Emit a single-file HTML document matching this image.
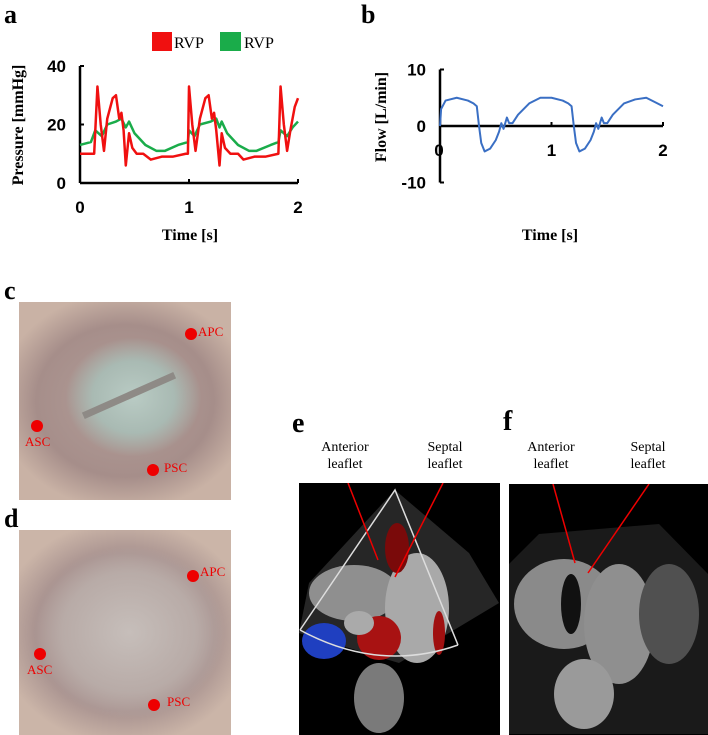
<!DOCTYPE html>
<html><head><meta charset="utf-8"><style>
body{margin:0;width:708px;height:735px;background:#fff;overflow:hidden;position:relative;font-family:"Liberation Serif",serif}
.lbl{position:absolute;font-weight:bold;font-size:26px;font-family:"Liberation Serif",serif;line-height:1}
.ph{position:absolute;overflow:hidden}
.t{position:absolute;font-size:14px;text-align:center;line-height:17px;font-family:"Liberation Serif",serif}
.mk{position:absolute;color:#e00;font-size:13px;font-family:"Liberation Serif",serif}
.dot{position:absolute;width:12px;height:12px;border-radius:50%;background:#e00}
</style></head><body>
<div class="lbl" style="left:4px;top:2px">a</div>
<div class="lbl" style="left:361px;top:2px">b</div>
<svg id="chartA" width="360" height="260" style="position:absolute;left:0;top:0"></svg>
<svg id="chartB" width="348" height="260" style="position:absolute;left:360px;top:0"></svg>

<div class="lbl" style="left:4px;top:278px">c</div>
<div class="ph" style="left:19px;top:302px;width:212px;height:198px;background:radial-gradient(ellipse 32% 30% at 54% 48%,#b9cbc4 0%,#a9bab3 60%,rgba(170,160,155,0) 100%),radial-gradient(ellipse 60% 55% at 50% 50%,#b29e99 0%,#a68e8a 70%,#c9b2a5 100%),#cdb8ab">
<div style="position:absolute;left:60px;top:90px;width:100px;height:7px;background:#8e8a86;transform:rotate(-24deg)"></div>
<div class="dot" style="left:166px;top:26px"></div><div class="mk" style="left:179px;top:22px">APC</div>
<div class="dot" style="left:12px;top:118px"></div><div class="mk" style="left:6px;top:132px">ASC</div>
<div class="dot" style="left:128px;top:162px"></div><div class="mk" style="left:145px;top:158px">PSC</div>
</div>
<div class="lbl" style="left:4px;top:506px">d</div>
<div class="ph" style="left:19px;top:530px;width:212px;height:205px;background:radial-gradient(ellipse 45% 42% at 52% 50%,#c6beba 0%,#b8aba7 70%,rgba(170,160,155,0) 100%),radial-gradient(ellipse 60% 55% at 50% 50%,#b5a29e 0%,#a99390 70%,#cbb5a8 100%),#cdb8ab">
<div class="dot" style="left:168px;top:40px"></div><div class="mk" style="left:181px;top:34px">APC</div>
<div class="dot" style="left:15px;top:118px"></div><div class="mk" style="left:8px;top:132px">ASC</div>
<div class="dot" style="left:129px;top:169px"></div><div class="mk" style="left:148px;top:164px">PSC</div>
</div>

<div class="lbl" style="left:292px;top:410px;font-size:28px">e</div>
<div class="lbl" style="left:503px;top:408px;font-size:28px">f</div>
<div class="t" style="left:305px;top:439px;width:80px">Anterior<br>leaflet</div>
<div class="t" style="left:405px;top:439px;width:80px">Septal<br>leaflet</div>
<div class="t" style="left:511px;top:439px;width:80px">Anterior<br>leaflet</div>
<div class="t" style="left:608px;top:439px;width:80px">Septal<br>leaflet</div>

<div class="ph" style="left:299px;top:483px;width:201px;height:252px;background:#000">
<svg width="201" height="252">
<polygon points="96,7 10,100 0,150 100,180 200,120 170,70" fill="#262626"/>
<ellipse cx="55" cy="110" rx="45" ry="28" fill="#8f8f8f"/>
<ellipse cx="118" cy="125" rx="32" ry="55" fill="#a9a9a9"/>
<ellipse cx="80" cy="215" rx="25" ry="35" fill="#7a7a7a"/>
<ellipse cx="25" cy="158" rx="22" ry="18" fill="#1f3fc0"/>
<ellipse cx="80" cy="155" rx="22" ry="22" fill="#a81212"/>
<ellipse cx="60" cy="140" rx="15" ry="12" fill="#aaaaaa"/>
<ellipse cx="98" cy="65" rx="12" ry="25" fill="#7a0a0a"/>
<ellipse cx="140" cy="150" rx="6" ry="22" fill="#a01010"/>
<polyline points="1,147 96,7 159,162" fill="none" stroke="#ddd" stroke-width="1.5"/>
<path d="M1,147 Q80,190 159,162" fill="none" stroke="#ddd" stroke-width="1.5"/>
<line x1="49" y1="0" x2="79" y2="77" stroke="#e00" stroke-width="1.5"/>
<line x1="144" y1="0" x2="96" y2="94" stroke="#e00" stroke-width="1.5"/>
</svg></div>
<div class="ph" style="left:509px;top:484px;width:199px;height:251px;background:#000">
<svg width="199" height="251">
<polygon points="30,50 0,80 0,250 199,250 199,90 150,40" fill="#1a1a1a"/>
<ellipse cx="55" cy="120" rx="50" ry="45" fill="#8a8a8a"/>
<ellipse cx="110" cy="140" rx="35" ry="60" fill="#8f8f8f"/>
<ellipse cx="75" cy="210" rx="30" ry="35" fill="#9a9a9a"/>
<ellipse cx="160" cy="130" rx="30" ry="50" fill="#505050"/>
<ellipse cx="62" cy="120" rx="10" ry="30" fill="#111"/>
<line x1="44" y1="0" x2="66" y2="79" stroke="#e00" stroke-width="1.5"/>
<line x1="140" y1="0" x2="79" y2="89" stroke="#e00" stroke-width="1.5"/>
</svg></div>

<script>
const ns="http://www.w3.org/2000/svg";
const pressTime=[0,0.1,0.13,0.16,0.19,0.22,0.25,0.3,0.33,0.36,0.38,0.4,0.42,0.45,0.48,0.52,0.58,0.65,0.75,0.85,0.97,0.99,1.0,1.03,1.06,1.1,1.15,1.18,1.21,1.23,1.25,1.28,1.3,1.33,1.38,1.45,1.5,1.6,1.7,1.82,1.84,1.87,1.9,1.93,1.97,2.0];
const rvpRed=[10,10,10,33,20,11,22,29,30,22,24,18,6,17,12,10,10,8,9,9,10,10,33,20,11,22,29,30,22,24,18,6,17,12,10,10,8,9,9,10,33,20,11,18,26,29];
const greenTime=[0,0.1,0.14,0.2,0.25,0.33,0.38,0.42,0.45,0.5,0.6,0.7,0.78,0.9,0.99,1.0,1.05,1.1,1.2,1.25,1.28,1.3,1.35,1.45,1.55,1.62,1.75,1.82,1.84,1.9,1.95,2.0];
const rvpGreen=[13,14,18,16,20,21,22,19,21,17,13,11,11,13,14,18,16,20,21,22,19,21,17,13,11,11,13,14,18,16,19,21];
const flowTime=[0,0.01,0.05,0.15,0.25,0.3,0.33,0.35,0.37,0.4,0.45,0.5,0.53,0.55,0.57,0.6,0.62,0.65,0.7,0.8,0.9,1.0,1.1,1.15,1.18,1.2,1.22,1.25,1.3,1.35,1.38,1.4,1.42,1.45,1.47,1.5,1.55,1.65,1.75,1.85,1.95,2.0];
const flowVals=[0,3,4.5,5,4.5,4,3.5,0,-3,-4.5,-4,-2.5,-1,0.5,-0.5,1.5,0.5,0.5,2,4,5,5,4.5,4,3.5,0,-3,-4.5,-4,-2.5,-1,0.5,-0.5,1.5,0.5,0.5,2,4,4.7,5,4,3.5];
const xTicks=[0,1,2];
const yTicksA=[0,20,40];
const yTicksB=[-10,0,10];

function el(svg,tag,attrs,name){const e=document.createElementNS(ns,tag);for(const k in attrs)e.setAttribute(k,attrs[k]);


svg.appendChild(e);return e;}
function txt(svg,x,y,s,attrs,name){const e=el(svg,'text',Object.assign({x:x,y:y},attrs),name);e.textContent=s;return e;}

const A=document.getElementById('chartA');
const ax=t=>80+t*109, ay=v=>183-v*2.925;
el(A,'line',{x1:ax(0),y1:ay(0),x2:ax(2),y2:ay(0),stroke:'#000','stroke-width':2.5},'x-axis');
el(A,'line',{x1:ax(0),y1:ay(0),x2:ax(0),y2:ay(40),stroke:'#000','stroke-width':2.5},'y-axis');
yTicksA.forEach(v=>{el(A,'line',{x1:ax(0),y1:ay(v),x2:ax(0)+4,y2:ay(v),stroke:'#000','stroke-width':2},'y-tick');
txt(A,66,ay(v)+6,v,{'text-anchor':'end','font-family':'Liberation Sans,sans-serif','font-weight':'bold','font-size':17},'y-tick-label');});
xTicks.forEach(v=>{el(A,'line',{x1:ax(v),y1:ay(0),x2:ax(v),y2:ay(0)-4,stroke:'#000','stroke-width':2},'x-tick');
txt(A,ax(v),213,v,{'text-anchor':'middle','font-family':'Liberation Sans,sans-serif','font-weight':'bold','font-size':17},'x-tick-label');});
el(A,'polyline',{points:greenTime.map((t,i)=>ax(t)+','+ay(rvpGreen[i])).join(' '),fill:'none',stroke:'#1aac4a','stroke-width':2.5,'stroke-linejoin':'round'},'rvp-green-line');
el(A,'polyline',{points:pressTime.map((t,i)=>ax(t)+','+ay(rvpRed[i])).join(' '),fill:'none',stroke:'#f01010','stroke-width':2.5,'stroke-linejoin':'round'},'rvp-red-line');
el(A,'rect',{x:152,y:32,width:20,height:19,fill:'#f01010'},'legend-swatch-red');
txt(A,174,48,'RVP',{'font-size':16,'font-family':'Liberation Serif,serif'},'legend-label-red');
el(A,'rect',{x:220,y:32,width:21,height:19,fill:'#1aac4a'},'legend-swatch-green');
txt(A,244,48,'RVP',{'font-size':16,'font-family':'Liberation Serif,serif'},'legend-label-green');
txt(A,0,0,'Pressure [mmHg]',{transform:'translate(23,125) rotate(-90)','text-anchor':'middle','font-weight':'bold','font-size':16,'font-family':'Liberation Serif,serif'},'y-axis-title');
txt(A,190,240,'Time [s]',{'text-anchor':'middle','font-weight':'bold','font-size':16,'font-family':'Liberation Serif,serif'},'x-axis-title');

const B=document.getElementById('chartB');
const bx=t=>80+t*111.5, by=v=>126-v*5.65;
el(B,'line',{x1:bx(0),y1:by(0),x2:bx(2),y2:by(0),stroke:'#000','stroke-width':2.5},'x-axis');
el(B,'line',{x1:bx(0),y1:by(-10),x2:bx(0),y2:by(10),stroke:'#000','stroke-width':2.5},'y-axis');
yTicksB.forEach(v=>{el(B,'line',{x1:bx(0),y1:by(v),x2:bx(0)+4,y2:by(v),stroke:'#000','stroke-width':2},'y-tick');
txt(B,66,by(v)+6,v,{'text-anchor':'end','font-family':'Liberation Sans,sans-serif','font-weight':'bold','font-size':17},'y-tick-label');});
xTicks.forEach(v=>{el(B,'line',{x1:bx(v),y1:by(0),x2:bx(v),y2:by(0)-4,stroke:'#000','stroke-width':2},'x-tick');
txt(B,bx(v)-(v==0?1:0),156,v,{'text-anchor':'middle','font-family':'Liberation Sans,sans-serif','font-weight':'bold','font-size':17},'x-tick-label');});
el(B,'polyline',{points:flowTime.map((t,i)=>bx(t)+','+by(flowVals[i])).join(' '),fill:'none',stroke:'#3a6fc4','stroke-width':2,'stroke-linejoin':'round'},'flow-line');
txt(B,0,0,'Flow  [L/min]',{transform:'translate(26,117) rotate(-90)','text-anchor':'middle','font-weight':'bold','font-size':16,'font-family':'Liberation Serif,serif'},'y-axis-title');
txt(B,190,240,'Time [s]',{'text-anchor':'middle','font-weight':'bold','font-size':16,'font-family':'Liberation Serif,serif'},'x-axis-title');
</script>
</body></html>
